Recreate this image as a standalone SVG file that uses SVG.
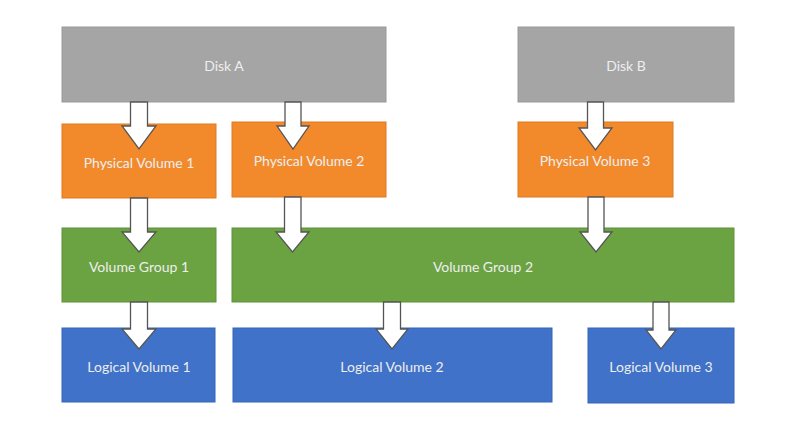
<svg xmlns="http://www.w3.org/2000/svg" width="797" height="438" viewBox="0 0 797 438">
<style>
.box{stroke-width:1}
.disk{fill:#a5a5a5;stroke:#9a9a9a}
.pv{fill:#f28a2c;stroke:#e07a22}
.vg{fill:#6ba342;stroke:#5e9238}
.lv{fill:#3f72c8;stroke:#3566b8}
.t{font-family:Lato,"Open Sans","Liberation Sans",sans-serif;font-size:14px;fill:#eeeeee;text-anchor:middle;dominant-baseline:central}
.arrow{fill:#ffffff;stroke:#555555;stroke-width:1.3;stroke-linejoin:miter}
</style>
<rect width="797" height="438" fill="#ffffff"/>
<g id="diskA"><rect class="box disk" x="62" y="27" width="324" height="75"/><text class="t" x="224" y="65">Disk A</text></g>
<g id="diskB"><rect class="box disk" x="518" y="27" width="216" height="75"/><text class="t" x="626" y="65">Disk B</text></g>
<g id="pv1"><rect class="box pv" x="62" y="124" width="154" height="74"/><text class="t" x="139" y="162">Physical Volume 1</text></g>
<g id="pv2"><rect class="box pv" x="232" y="122" width="154" height="75"/><text class="t" x="309" y="160">Physical Volume 2</text></g>
<g id="pv3"><rect class="box pv" x="518" y="122" width="155" height="75"/><text class="t" x="595" y="160">Physical Volume 3</text></g>
<g id="vg1"><rect class="box vg" x="62" y="228" width="154" height="74"/><text class="t" x="139" y="266">Volume Group 1</text></g>
<g id="vg2"><rect class="box vg" x="232" y="228" width="502" height="74"/><text class="t" x="483" y="266">Volume Group 2</text></g>
<g id="lv1"><rect class="box lv" x="62" y="328" width="153" height="74"/><text class="t" x="139" y="366">Logical Volume 1</text></g>
<g id="lv2"><rect class="box lv" x="233" y="328" width="319" height="74"/><text class="t" x="392" y="366">Logical Volume 2</text></g>
<g id="lv3"><rect class="box lv" x="588" y="328" width="146" height="75"/><text class="t" x="661" y="366">Logical Volume 3</text></g>
<g id="connectors">
<path class="arrow" d="M130.5,102 H147.5 V126 H156 L139,149 L122,126 H130.5 Z"/>
<path class="arrow" d="M285,102 H301 V126 H309 L293,149 L277,126 H285 Z"/>
<path class="arrow" d="M587.5,102 H603.5 V128 H612 L595.5,150 L579,128 H587.5 Z"/>
<path class="arrow" d="M130.5,198 H147.5 V232 H156 L139,252 L122,232 H130.5 Z"/>
<path class="arrow" d="M284.5,197 H301 V232 H309 L292.5,252 L276,232 H284.5 Z"/>
<path class="arrow" d="M588,197 H604 V232 H612 L596,252 L580,232 H588 Z"/>
<path class="arrow" d="M130.5,302 H147.5 V329 H156 L139,349 L122,329 H130.5 Z"/>
<path class="arrow" d="M383.5,302 H400.5 V329 H408 L392,349 L376,329 H383.5 Z"/>
<path class="arrow" d="M653,302 H669 V330 H676 L661,349 L646,330 H653 Z"/>
</g>
</svg>
